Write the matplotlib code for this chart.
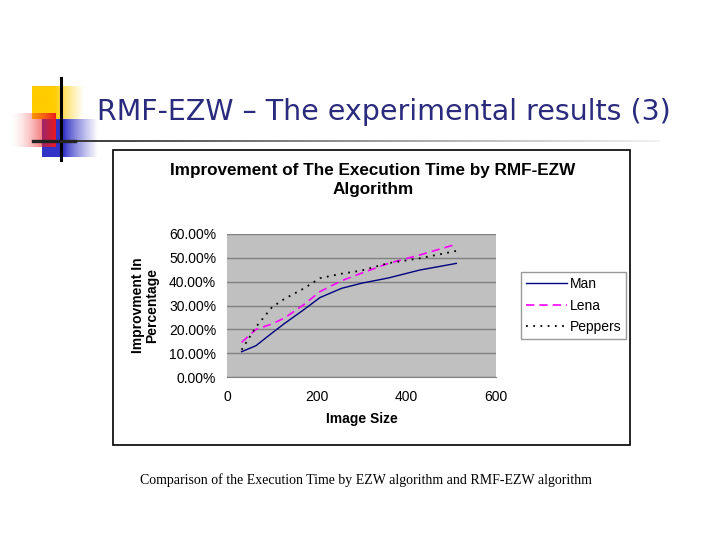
import numpy as np
import matplotlib
matplotlib.use("Agg")
import matplotlib.pyplot as plt
from matplotlib.patches import Rectangle
from matplotlib.ticker import FuncFormatter

# values (image size -> improvement %)
image_size = [32, 64, 100, 128, 170, 207, 256, 300, 360, 430, 512]
man = [10.7, 13.2, 18.5, 22.5, 28.1, 33.3, 37.2, 39.3, 41.5, 44.8, 47.6]
lena = [14.6, 20.0, 22.3, 24.8, 30.2, 35.8, 40.4, 43.5, 47.6, 51.1, 55.6]
peppers = [11.5, 21.0, 29.3, 32.8, 37.0, 41.4, 43.3, 44.6, 47.7, 49.7, 52.8]
y_ticks = [0, 10, 20, 30, 40, 50, 60]
x_ticks = [0, 200, 400, 600]

W, H = 720, 540
fig = plt.figure(figsize=(7.2, 5.4), dpi=100)
fig.patch.set_facecolor("white")


def box(x0, y0, x1, y1):
    # pixel box (top-left origin) -> figure fraction rect
    return [x0 / W, 1 - y1 / H, (x1 - x0) / W, (y1 - y0) / H]


def gradient_patch(rect, rgb, fade_from=0.0, reverse=False, power=1.0, z=1):
    ax = fig.add_axes(rect, zorder=z)
    ax.set_axis_off()
    t = np.linspace(0, 1, 300)
    a = np.clip((t - fade_from) / (1 - fade_from), 0, 1) ** power
    a = a if reverse else 1 - a
    img = np.ones((1, 300, 4))
    img[..., :3] = rgb
    img[..., 3] = a
    ax.imshow(img, aspect="auto", extent=[0, 1, 0, 1], interpolation="bilinear")
    return ax


# slide decoration
gradient_patch(box(32, 86, 84, 119), (1.0, 0.8, 0.0), fade_from=0.45, power=0.8, z=1)
gradient_patch(box(42, 119, 97, 157), (0.2, 0.2, 0.78), fade_from=0.4, power=0.8, z=2)
gradient_patch(box(10, 113, 55, 147), (0.93, 0.1, 0.12), fade_from=0.0, reverse=True,
               power=1.6, z=3)
# grey line fading out to the right
line_ax = fig.add_axes(box(33, 139.8, 660, 142.2), zorder=4)
line_ax.set_axis_off()
t = np.linspace(0, 1, 400)
g = 0.15 + 0.8 * t ** 0.9
line_img = np.stack([g, g, g], axis=-1)[None, :, :]
line_ax.imshow(line_img, aspect="auto", extent=[0, 1, 0, 1], interpolation="bilinear")

deco = fig.add_axes([0, 0, 1, 1], zorder=5)
deco.set_axis_off()
deco.set_xlim(0, W)
deco.set_ylim(H, 0)
deco.plot([61, 61], [78, 160], color="black", lw=2.2)
deco.plot([33, 75], [141, 141], color="#222222", lw=2.4)
deco.text(97, 112, "RMF-EZW \u2013 The experimental results (3)", fontsize=20.5,
          color="#2b2b7e", family="DejaVu Sans", va="center", ha="left")
deco.text(366, 480, "Comparison of the Execution Time by EZW algorithm and RMF-EZW algorithm",
          fontsize=10, family="Liberation Serif", ha="center", va="center")
deco.add_patch(Rectangle((113, 150), 517, 295, fill=False, edgecolor="black", lw=1.2))
deco.text(373, 180, "Improvement of The Execution Time by RMF-EZW\nAlgorithm", fontsize=12.3,
          fontweight="bold", family="Liberation Sans", ha="center", va="center",
          linespacing=1.4)

# chart
ax = fig.add_axes(box(227.3, 233.7, 495.7, 377.3))
ax.set_facecolor("#c0c0c0")
ax.plot(image_size, man, color="#000080", lw=1.0, label="Man")
ax.plot(image_size, lena, color="#ff00ff", lw=1.2, ls=(0, (5, 3)), label="Lena")
ax.plot(image_size, peppers, color="black", lw=1.3, ls=(0, (1, 3)), label="Peppers")
ax.set_xlim(0, 600)
ax.set_ylim(0, 60)
ax.set_xticks(x_ticks)
ax.set_yticks(y_ticks)
ax.yaxis.set_major_formatter(FuncFormatter(lambda v, p: f"{v:.2f}%"))
ax.grid(axis="y", color="#808080", lw=1.0)
ax.set_axisbelow(True)
for s in ax.spines.values():
    s.set_visible(False)
ax.spines["bottom"].set_visible(True)
ax.spines["bottom"].set_color("#808080")
ax.tick_params(axis="y", length=0, labelsize=10, pad=8)
ax.tick_params(axis="x", length=0, labelsize=10, pad=9)
for lab in ax.get_xticklabels() + ax.get_yticklabels():
    lab.set_family("Liberation Sans")
ax.set_xlabel("Image Size", fontsize=10, fontweight="bold", family="Liberation Sans", labelpad=6)
ax.set_ylabel("Improvment In\nPercentage", fontsize=10, fontweight="bold",
              family="Liberation Sans", labelpad=7, linespacing=1.0)
leg = ax.legend(loc="center left", bbox_to_anchor=(1.094, 0.5), frameon=True, fancybox=False,
                prop={"family": "Liberation Sans", "size": 10}, handlelength=3.0,
                handletextpad=0.15, borderpad=0.35, labelspacing=0.55, borderaxespad=0)
leg.get_frame().set_edgecolor("#808080")
leg.get_frame().set_linewidth(1.0)

fig.savefig("out.png", dpi=100, facecolor="white")
